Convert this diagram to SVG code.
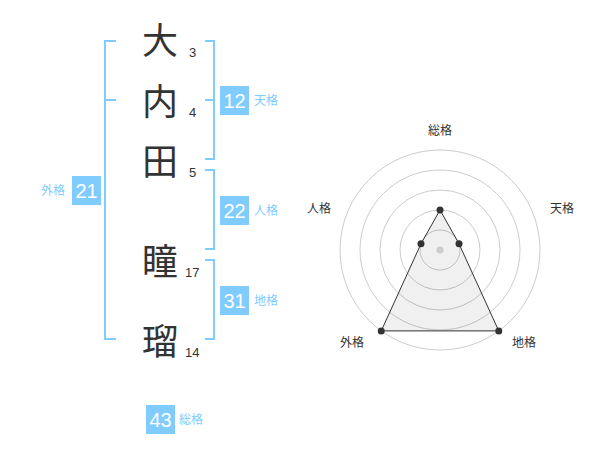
<svg xmlns="http://www.w3.org/2000/svg" width="600" height="470" viewBox="0 0 600 470">
<style>
.kanji{font-family:"Noto Sans CJK JP","Noto Sans CJK SC",sans-serif;font-size:36px;fill:#333;text-anchor:middle}
.num{font-family:"Liberation Sans",Arial,sans-serif;font-size:13px;fill:#333}
.box{fill:#80ccff}
.boxt{font-family:"Liberation Sans",Arial,sans-serif;font-size:20px;fill:#fff;text-anchor:middle}
.lab{font-family:"Noto Sans CJK JP",sans-serif;font-size:12px;fill:#80ccff}
.br{fill:none;stroke:#80ccff;stroke-width:2}
.ring{fill:none;stroke:#cccccc;stroke-width:1}
.rl{font-family:"Noto Sans CJK JP",sans-serif;font-size:12px;fill:#333;text-anchor:middle}
.pt{fill:#333}
</style>
<rect width="600" height="470" fill="#fff"/>
<g id="connectors">
<path class="br" d="M116,41 H105 V339 H116 M105,100 H116"/>
<path class="br" d="M205,41 H214 V159 H205 M205,100 H214"/>
<path class="br" d="M205,170 H214 V249 H205"/>
<path class="br" d="M205,260 H214 V339 H205"/>
</g>
<g id="char1"><text class="kanji" x="160" y="54">大</text><text class="num" x="189" y="57">3</text></g>
<g id="char2"><text class="kanji" x="160" y="115">内</text><text class="num" x="189" y="117">4</text></g>
<g id="char3"><text class="kanji" x="160" y="175">田</text><text class="num" x="189" y="177">5</text></g>
<g id="char4"><text class="kanji" x="160" y="275">瞳</text><text class="num" x="185" y="277">17</text></g>
<g id="char5"><text class="kanji" x="160" y="355">瑠</text><text class="num" x="185" y="357">14</text></g>
<g id="tenkaku"><rect class="box" x="220" y="86" width="29" height="29"/><text class="boxt" x="234.5" y="107.5">12</text><text class="lab" x="254" y="105">天格</text></g>
<g id="jinkaku"><rect class="box" x="220" y="196" width="29" height="29"/><text class="boxt" x="234.5" y="217.5">22</text><text class="lab" x="254" y="215">人格</text></g>
<g id="chikaku"><rect class="box" x="220" y="286" width="29" height="29"/><text class="boxt" x="234.5" y="307.5">31</text><text class="lab" x="254" y="305">地格</text></g>
<g id="gaikaku"><rect class="box" x="72" y="176" width="29" height="29"/><text class="boxt" x="86.5" y="197.5">21</text><text class="lab" x="65" y="195" text-anchor="end">外格</text></g>
<g id="soukaku"><rect class="box" x="146" y="405" width="29" height="29"/><text class="boxt" x="160.5" y="426.5">43</text><text class="lab" x="179" y="424">総格</text></g>
<g id="radar">
<circle class="ring" cx="440" cy="250" r="100"/>
<circle class="ring" cx="440" cy="250" r="80"/>
<circle class="ring" cx="440" cy="250" r="60"/>
<circle class="ring" cx="440" cy="250" r="40"/>
<circle class="ring" cx="440" cy="250" r="20"/>
<polygon points="440,210 459.02,243.82 498.78,330.9 381.22,330.9 420.98,243.82" fill="#000" fill-opacity="0.06" stroke="#333" stroke-width="1"/>
<circle cx="440" cy="250" r="3.5" fill="#cccccc"/>
<circle class="pt" cx="440" cy="210" r="3.5"/>
<circle class="pt" cx="459.02" cy="243.82" r="3.5"/>
<circle class="pt" cx="498.78" cy="330.9" r="3.5"/>
<circle class="pt" cx="381.22" cy="330.9" r="3.5"/>
<circle class="pt" cx="420.98" cy="243.82" r="3.5"/>
<text class="rl" x="440" y="135">総格</text>
<text class="rl" x="562" y="213">天格</text>
<text class="rl" x="319" y="213">人格</text>
<text class="rl" x="352" y="347">外格</text>
<text class="rl" x="524" y="347">地格</text>
</g>
</svg>
